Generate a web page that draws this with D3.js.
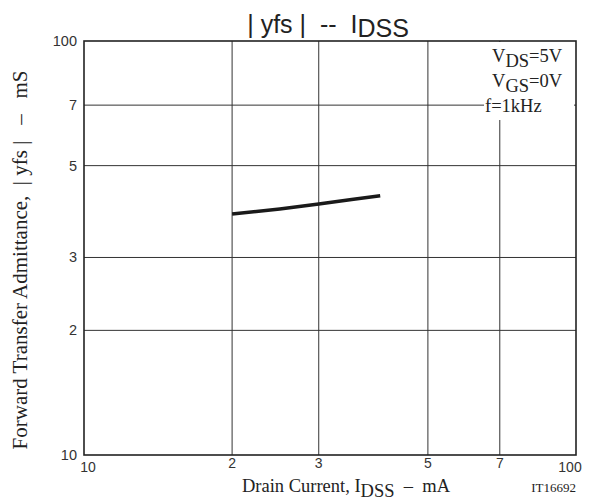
<!DOCTYPE html>
<html><head><meta charset="utf-8">
<script src="https://cdn.jsdelivr.net/npm/d3@7"></script>
<style>body{margin:0;background:#fff}svg{display:block}text{white-space:pre}</style>
</head><body>
<script>
const idssMA = [20, 25, 30, 35, 40];
const yfsMS  = [38.2, 39.3, 40.4, 41.4, 42.3];
const xTicks = [10, 20, 30, 50, 70, 100];
const xTickLabels = ["10", "2", "3", "5", "7", "100"];
const yTicks = [10, 20, 30, 50, 70, 100];
const yTickLabels = ["10", "2", "3", "5", "7", "100"];
const conditions = [["V","DS","=5V"],["V","GS","=0V"],["f=1kHz","",""]];

const W = 599, H = 502;
const m = {left:84, right:23, top:41, bottom:47};
const svg = d3.select("body").append("svg").attr("width",W).attr("height",H);
const x = d3.scaleLog().domain([10,100]).range([m.left, W-m.right]);
const y = d3.scaleLog().domain([10,100]).range([H-m.bottom, m.top]);
const SANS = "Liberation Sans, Arial, sans-serif";
const SERIF = "Liberation Serif, Times New Roman, serif";

// grid
const g = svg.append("g");
g.selectAll(".vg").data(xTicks.slice(1,-1)).join("line")
  .attr("x1",d=>x(d)).attr("x2",d=>x(d)).attr("y1",y(10)).attr("y2",y(100))
  .attr("stroke","#333").attr("stroke-width",1);
g.selectAll(".hg").data(yTicks.slice(1,-1)).join("line")
  .attr("y1",d=>y(d)).attr("y2",d=>y(d)).attr("x1",x(10)).attr("x2",x(100))
  .attr("stroke","#333").attr("stroke-width",1);

// legend box background
svg.append("rect").attr("x",x(100)-92).attr("y",y(100)+1).attr("width",90).attr("height",78).attr("fill","#fff");

// frame
svg.append("rect").attr("x",x(10)).attr("y",y(100)).attr("width",x(100)-x(10)).attr("height",y(10)-y(100))
  .attr("fill","none").attr("stroke","#222").attr("stroke-width",1.6);

// curve
const pts = idssMA.map((d,i)=>[d,yfsMS[i]]);
svg.append("path").datum(pts)
  .attr("d", d3.line().x(d=>x(d[0])).y(d=>y(d[1])))
  .attr("fill","none").attr("stroke","#1a1a1a").attr("stroke-width",3.5).attr("stroke-linejoin","round");

// tick labels
svg.selectAll(".xt").data(xTicks).join("text")
  .attr("x",(d,i)=> x(d) + (i===0?4:(i===xTicks.length-1?-6:0)))
  .attr("y",(d,i)=> y(10) + ((i===0||i===xTicks.length-1)?17:13))
  .attr("text-anchor","middle").attr("font-family",SANS)
  .attr("font-size",14).attr("fill","#333").text((d,i)=>xTickLabels[i]);
svg.selectAll(".yt").data(yTicks).join("text")
  .attr("x",x(10)-7).attr("y",d=>y(d)+5)
  .attr("text-anchor","end").attr("font-family",SANS)
  .attr("font-size",14.5).attr("fill","#333").text((d,i)=>yTickLabels[i]);

// conditions
const cx = [x(100)-84, x(100)-84, x(100)-91];
conditions.forEach((c,i)=>{
  const t = svg.append("text").attr("x",cx[i]).attr("y",y(100)+21+i*25)
    .attr("font-family",SERIF).attr("font-size",18.5).attr("fill","#222");
  t.append("tspan").text(c[0]);
  if(c[1]) t.append("tspan").attr("dy",5).text(c[1]);
  if(c[2]) t.append("tspan").attr("dy",-5).text(c[2]);
});

// title
const tt = svg.append("text").attr("x",328).attr("y",33).attr("text-anchor","middle")
  .attr("font-family",SANS).attr("font-size",25).attr("fill","#222");
tt.append("tspan").text("| yfs |  --  I");
tt.append("tspan").attr("dy",4).text("DSS");

// x label
const xl = svg.append("text").attr("x",346).attr("y",492).attr("text-anchor","middle")
  .attr("font-family",SERIF).attr("font-size",18.5).attr("fill","#222");
xl.append("tspan").text("Drain Current, I");
xl.append("tspan").attr("dy",5).text("DSS");
xl.append("tspan").attr("dy",-5).text("  –  mA");

svg.append("text").attr("x",576).attr("y",492).attr("text-anchor","end")
  .attr("font-family",SERIF).attr("font-size",13).attr("fill","#222").text("IT16692");

// y label
svg.append("text").attr("transform","translate(27,260) rotate(-90)").attr("text-anchor","middle")
  .attr("font-family",SERIF).attr("font-size",21).attr("fill","#222")
  .text("Forward Transfer Admittance,  | yfs |   –   mS");
</script>
</body></html>
